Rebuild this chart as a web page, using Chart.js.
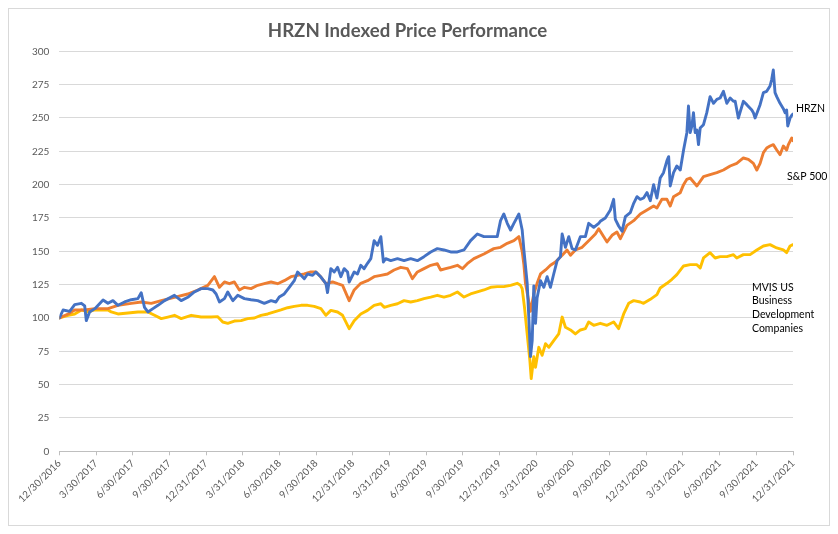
<!DOCTYPE html>
<html>
<head>
<meta charset="utf-8">
<title>HRZN Indexed Price Performance</title>
<script src="https://cdn.jsdelivr.net/npm/chart.js@4.4.1/dist/chart.umd.min.js"></script>
<style>
  html, body { margin: 0; padding: 0; background: #fff; }
  #wrap { width: 838px; height: 534px; }
</style>
</head>
<body>
<div id="wrap"><canvas id="perfChart" width="838" height="534"></canvas></div>
<script>
// x values are months since 12/30/2016 (quarter ends fall on 3, 6, 9 ...)
const tickMonths = [0, 3, 6, 9, 12, 15, 18, 21, 24, 27, 30, 33, 36, 39, 42, 45, 48, 51, 54, 57, 60];
const tickLabels = ['12/30/2016', '3/30/2017', '6/30/2017', '9/30/2017', '12/31/2017', '3/31/2018',
  '6/30/2018', '9/30/2018', '12/31/2018', '3/31/2019', '6/30/2019', '9/30/2019', '12/31/2019',
  '3/31/2020', '6/30/2020', '9/30/2020', '12/31/2020', '3/31/2021', '6/30/2021', '9/30/2021', '12/31/2021'];

const hrzn = [[0,100],[0.3,106],[0.84,105],[1.25,110],[1.8,111],[2.07,109],[2.2,98],[2.47,104.5],[2.9,107],[3.57,113.5],
  [3.97,111],[4.38,113],[4.79,109.5],[5.33,112],[5.88,113.7],[6.42,114.5],[6.69,119],[6.96,108],[7.24,104.5],[7.65,107],
  [8.06,109.5],[8.6,113],[9.41,117],[9.96,113],[10.5,115.5],[11.04,119.5],[11.59,122],[12.14,122],[12.55,121],[12.82,118],
  [13.09,112],[13.5,114.5],[13.77,119.5],[14.18,113],[14.59,117],[15.13,114.5],[15.67,113.7],[16.22,113],[16.76,111],[17.31,113],
  [17.71,112],[17.98,115.7],[18.39,118],[18.8,123],[19.21,128],[19.48,134.5],[19.76,132],[20.03,129.5],[20.3,133],[20.71,132],
  [20.98,134.5],[21.39,130.7],[21.8,125.7],[21.93,119],[22.2,137],[22.48,134.5],[22.75,138],[23.02,131],[23.29,137],[23.57,134.5],
  [23.7,127],[24.11,134.5],[24.38,133],[24.65,139.5],[24.92,137],[25.2,141],[25.47,144.5],[25.74,158],[26.02,154.5],[26.29,161],
  [26.5,142],[26.69,144.5],[27.1,143],[27.65,144.5],[28.19,143],[28.73,144.5],[29.28,143],[29.82,146],[30.37,149.5],[30.91,152],
  [31.45,151],[32,149.5],[32.55,149.5],[33.09,151],[33.63,158],[34.18,163],[34.72,161],[35.27,161],[35.81,161],[36.08,173],
  [36.35,178],[36.63,171],[36.9,166],[37.17,171],[37.58,178],[37.85,166],[37.99,151],[38.26,126],[38.39,101],[38.53,71],
  [38.67,83],[38.8,124],[38.94,96],[39.07,115],[39.35,128],[39.62,123],[39.89,131],[40.16,123],[40.43,133],[40.71,143],
  [40.98,146],[41.12,163],[41.39,153],[41.66,161],[41.93,152],[42.2,151],[42.61,161],[43.02,161],[43.29,171],[43.7,168],
  [44.11,171],[44.24,172.5],[44.65,175],[45.06,181],[45.33,189],[45.47,174],[45.74,169],[46.02,165],[46.29,176],[46.69,179],
  [46.97,186],[47.24,191],[47.51,189],[47.78,190],[48.06,194],[48.33,188],[48.6,200],[48.87,190],[49.14,205],[49.41,209],
  [49.69,218],[49.83,221],[49.96,199],[50.23,209],[50.5,214],[50.78,211],[51.05,226],[51.32,239],[51.45,259],[51.59,239],
  [51.73,244],[51.86,254],[52,239],[52.14,241],[52.27,230],[52.41,242.5],[52.68,245],[52.95,254],[53.22,266],[53.5,261],
  [53.77,264],[54.04,265],[54.31,270],[54.59,261],[54.86,265],[55.13,262.5],[55.27,262.5],[55.53,250],[55.94,262.5],[56.22,260],
  [56.63,256],[56.76,254],[56.9,250],[57.31,260],[57.58,269],[57.85,270],[58.12,274],[58.26,279],[58.39,286],[58.53,269],
  [58.67,266],[58.94,261],[59.21,257],[59.35,254],[59.48,256],[59.57,244],[59.76,250],[59.9,252],[60,253]];

const sp500 = [[0,100],[0.71,103],[1.25,106],[2.07,106],[2.9,107],[3.97,107],[4.79,109.5],[5.88,111],[6.69,112],[7.51,111],
  [8.33,113],[9.41,115.5],[10.5,118],[11.32,121],[12.14,124.5],[12.68,131],[13.09,123],[13.5,127],[13.9,125.7],[14.31,127],
  [14.72,121],[15.13,123],[15.67,122],[16.22,124.5],[16.76,125.7],[17.31,127],[17.85,125.7],[18.39,128],[18.94,131],[19.48,132],
  [20.03,133],[20.57,134.5],[20.98,134.5],[21.39,130.7],[21.8,125.7],[22.34,127],[22.75,125.7],[23.16,124.5],[23.7,113],[24.11,121],
  [24.65,126],[25.2,128],[25.74,131],[26.29,132],[26.83,133],[27.37,136],[27.92,138],[28.46,137],[28.87,129.5],[29.28,134.5],
  [29.82,137],[30.37,139.5],[30.91,140.7],[31.18,136],[31.59,137],[32,138],[32.55,139.5],[32.96,137],[33.36,140.7],[33.9,144.5],
  [34.72,148],[35.53,152],[36.08,153],[36.63,156],[37.17,158],[37.58,161],[37.85,150],[37.99,140],[38.12,126],[38.53,105],
  [38.8,118],[39.07,126],[39.35,133],[39.76,136],[40.16,139.5],[40.57,142],[41.12,147],[41.52,151],[41.8,147],[42.2,151],
  [42.75,153],[43.29,158],[43.84,163],[44.11,167],[44.52,161],[44.79,157],[45.2,162],[45.6,164.5],[45.88,159.5],[46.42,169.5],
  [46.97,173],[47.51,178],[48.06,181],[48.6,184],[48.87,182.5],[49.28,189],[49.69,189],[49.96,184],[50.23,191],[50.78,194],
  [51.05,200],[51.32,204],[51.59,205],[52.14,199],[52.68,206],[53.22,207.5],[53.77,209],[54.31,211],[54.86,214],[55.4,216],
  [55.94,220],[56.35,219],[56.76,216],[57.04,211],[57.31,216],[57.58,224],[57.85,227.5],[58.12,229],[58.39,230],[58.67,226],
  [58.94,222.5],[59.21,229],[59.48,226],[59.62,230],[59.9,235],[60,233]];

const mvis = [[0,100],[0.71,102],[1.25,103],[1.8,106],[2.34,104.5],[2.9,106],[3.43,106],[3.97,106],[4.24,104.5],[4.79,103],
  [5.61,103.7],[6.42,104.5],[7.24,104.5],[7.78,102],[8.33,99.5],[8.87,100.7],[9.41,102],[9.96,99.5],[10.78,102],[11.59,100.7],
  [12.41,100.7],[12.95,101],[13.36,97],[13.77,96],[14.31,97.7],[14.86,98],[15.4,99.5],[15.95,100],[16.49,102],[17.04,103],
  [17.58,104.5],[18.12,106],[18.67,107.7],[19.21,108.7],[19.76,109.5],[20.3,109.5],[20.84,108.7],[21.39,107],[21.8,102],[22.2,105.7],
  [22.75,104.5],[23.16,102],[23.7,92],[24.11,98],[24.65,103],[25.2,105.7],[25.74,109.5],[26.29,110.7],[26.56,108],[27.1,109.5],
  [27.65,110.7],[28.19,113],[28.73,112],[29.28,113],[29.82,114.5],[30.37,115.7],[30.91,117],[31.45,115.7],[32,117],[32.55,119.5],
  [33.09,115.7],[33.63,118],[34.18,119.5],[34.72,121],[35.27,123],[35.81,123.5],[36.35,123.5],[36.9,124.5],[37.44,126],[37.71,124.5],
  [37.85,122],[38.04,108],[38.26,88],[38.48,68],[38.59,54.5],[38.8,71],[38.94,63],[39.21,78],[39.48,72],[39.76,80.7],
  [40.03,78],[40.43,83],[40.84,88],[41.12,100.7],[41.39,93],[41.8,91],[42.2,88],[42.61,91],[43.02,92],[43.29,97],
  [43.7,94.5],[44.24,96],[44.79,94.5],[45.33,97],[45.74,92],[46.15,103],[46.56,111],[46.97,113],[47.51,112],[47.78,111],
  [48.33,114],[48.87,117.5],[49.14,122.5],[49.69,126],[50.1,129],[50.5,132.5],[51.05,139],[51.59,140],[52.14,140],[52.41,137.5],
  [52.68,145],[53.22,149],[53.63,145],[54.04,146],[54.59,146],[55.13,147.5],[55.4,145],[55.94,147.5],[56.49,147.5],[57.04,151],
  [57.58,154],[58.12,155],[58.67,152.5],[59.21,151],[59.48,149],[59.76,154],[60,155]];

const toPoints = arr => arr.map(([x, y]) => ({ x, y }));
const FONT = 'Lato, "Open Sans", sans-serif';

// white background + thin frame like the Excel chart object
const frame = {
  id: 'frame',
  beforeDraw(chart) {
    const ctx = chart.ctx;
    ctx.save();
    ctx.fillStyle = '#fff';
    ctx.fillRect(0, 0, chart.width, chart.height);
    ctx.strokeStyle = '#d9d9d9';
    ctx.lineWidth = 1;
    ctx.strokeRect(8.5, 8.5, chart.width - 17, chart.height - 17);
    ctx.restore();
  }
};

// series names written next to the line ends
const endLabels = {
  id: 'endLabels',
  afterDatasetsDraw(chart) {
    const { ctx, chartArea, scales } = chart;
    const y = scales.y;
    ctx.save();
    ctx.font = '10.5px ' + FONT;
    ctx.fillStyle = '#000';
    ctx.textBaseline = 'middle';
    ctx.fillText('HRZN', chartArea.right + 3, y.getPixelForValue(257));
    ctx.fillText('S&P 500', chartArea.right - 6, y.getPixelForValue(206));
    const lines = ['MVIS US', 'Business', 'Development', 'Companies'];
    lines.forEach((t, i) => {
      ctx.fillText(t, chartArea.right - 41, y.getPixelForValue(123) + i * 13.7);
    });
    ctx.restore();
  }
};

new Chart(document.getElementById('perfChart'), {
  type: 'line',
  data: {
    datasets: [
      { label: 'HRZN', data: toPoints(hrzn), borderColor: '#4472C4' },
      { label: 'S&P 500', data: toPoints(sp500), borderColor: '#ED7D31' },
      { label: 'MVIS US Business Development Companies', data: toPoints(mvis), borderColor: '#FFC000' }
    ]
  },
  options: {
    responsive: false,
    animation: false,
    devicePixelRatio: 1,
    layout: { padding: { left: 22, right: 45, top: 0, bottom: 27 } },
    elements: {
      line: { borderWidth: 2.9, tension: 0, borderCapStyle: 'round', borderJoinStyle: 'round' },
      point: { radius: 0 }
    },
    plugins: {
      legend: { display: false },
      tooltip: { enabled: false },
      title: {
        display: true,
        text: 'HRZN Indexed Price Performance',
        color: '#595959',
        font: { family: FONT, size: 18.6, weight: 'bold' },
        padding: { top: 20, bottom: 9 }
      }
    },
    scales: {
      x: {
        type: 'linear',
        min: 0,
        max: 60,
        afterBuildTicks: axis => { axis.ticks = tickMonths.map(v => ({ value: v })); },
        ticks: {
          autoSkip: false,
          maxRotation: 45,
          minRotation: 45,
          padding: 2,
          color: '#595959',
          font: { family: FONT, size: 10 },
          callback: v => tickLabels[tickMonths.indexOf(v)]
        },
        grid: { drawOnChartArea: false, drawTicks: true, tickLength: 4, color: '#bfbfbf' },
        border: { color: '#bfbfbf' }
      },
      y: {
        min: 0,
        max: 300,
        ticks: {
          stepSize: 25,
          padding: 10,
          color: '#595959',
          font: { family: FONT, size: 10 }
        },
        grid: { color: '#d9d9d9', drawTicks: false },
        border: { display: false }
      }
    }
  },
  plugins: [frame, endLabels]
});
</script>
</body>
</html>
